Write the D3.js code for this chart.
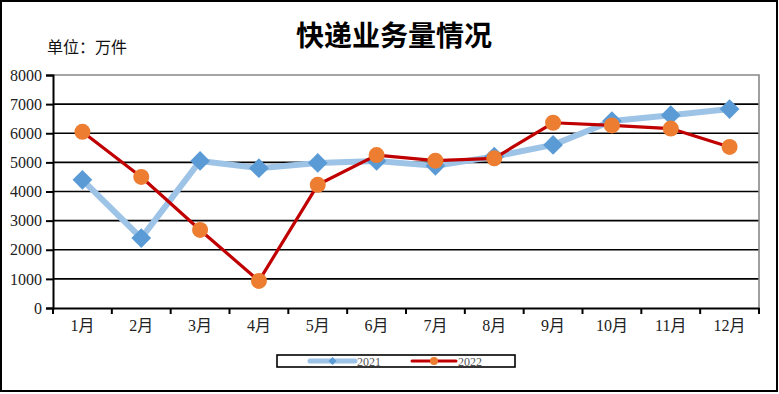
<!DOCTYPE html>
<html><head><meta charset="utf-8">
<script src="https://cdn.jsdelivr.net/npm/d3@7"></script>
<style>
body{margin:0;background:#fff;}
svg{display:block;}
text{font-family:"Liberation Serif","DejaVu Serif","Noto Sans CJK SC",serif;}
</style></head><body>
<svg id="c" width="779" height="394"></svg>
<script>
const categories = ["1月","2月","3月","4月","5月","6月","7月","8月","9月","10月","11月","12月"];
const series2021 = [4400,2400,5050,4800,4980,5050,4880,5200,5600,6420,6620,6830];
const series2022 = [6050,4500,2680,930,4230,5250,5060,5140,6360,6270,6160,5530];
const yTicks = [0,1000,2000,3000,4000,5000,6000,7000,8000];
const seriesNames = ["2021","2022"];
const title = "快递业务量情况";
const unitLabel = "单位：万件";

const svg = d3.select("#c");
const L=53,R=759,T=75,B=308;
const x = d3.scaleBand().domain(categories).range([L,R]);
const y = d3.scaleLinear().domain([0,8000]).range([B,T]);

svg.append("rect").attr("x",1).attr("y",1).attr("width",776).attr("height",390)
  .attr("fill","#fff").attr("stroke","#000").attr("stroke-width",2);

svg.append("text").attr("x",394).attr("y",46).attr("text-anchor","middle")
  .style("font-family","'Noto Sans CJK SC',sans-serif").style("font-weight","bold")
  .style("font-size","28px").attr("fill","#000").text(title);
svg.append("text").attr("x",47).attr("y",53)
  .style("font-family","'Noto Sans CJK SC',sans-serif")
  .style("font-size","16px").attr("fill","#111").text(unitLabel);

// gridlines
svg.append("g").selectAll("line").data(yTicks.filter(d=>d>0&&d<8000)).join("line")
  .attr("x1",L).attr("x2",R).attr("y1",d=>y(d)).attr("y2",d=>y(d))
  .attr("stroke","#000").attr("stroke-width",1.6);
// plot border top/right gray
svg.append("path").attr("d",`M${L},${y(8000)}H${R}V${B}`).attr("fill","none")
  .attr("stroke","#888").attr("stroke-width",1.6);

// y axis
const yAxis = svg.append("g").attr("transform",`translate(${L},0)`)
  .call(d3.axisLeft(y).tickValues(yTicks).tickSize(7).tickPadding(4).tickFormat(d3.format("d")));
yAxis.select(".domain").attr("stroke","#000").attr("stroke-width",2);
yAxis.selectAll(".tick line").attr("stroke","#000").attr("stroke-width",2);
yAxis.selectAll("text").style("font-size","16px").attr("fill","#222");

// x axis
const xAxis = svg.append("g").attr("transform",`translate(0,${B})`)
  .call(d3.axisBottom(x).tickSize(0).tickPadding(12));
xAxis.select(".domain").attr("stroke","#000").attr("stroke-width",2);
xAxis.selectAll("text").style("font-size","16px").attr("fill","#222")
  .style("font-family","'Liberation Serif','Noto Sans CJK SC',serif");
const bounds = categories.map(c=>x(c)).concat([R]);
svg.append("g").selectAll("line").data(bounds).join("line")
  .attr("x1",d=>d).attr("x2",d=>d).attr("y1",B).attr("y2",B+6)
  .attr("stroke","#000").attr("stroke-width",2);

const cx = c=>x(c)+x.bandwidth()/2;
const line = d3.line().x((d,i)=>cx(categories[i])).y(d=>y(d));

svg.append("path").datum(series2021).attr("d",line).attr("fill","none")
  .attr("stroke","#9DC3E6").attr("stroke-width",6).attr("stroke-linejoin","round");
svg.append("g").selectAll("path").data(series2021).join("path")
  .attr("d",d3.symbol(d3.symbolSquare,195)())
  .attr("transform",(d,i)=>`translate(${cx(categories[i])},${y(d)}) rotate(45)`)
  .attr("fill","#5B9BD5");

svg.append("path").datum(series2022).attr("d",line).attr("fill","none")
  .attr("stroke","#C00000").attr("stroke-width",3.2).attr("stroke-linejoin","round");
svg.append("g").selectAll("circle").data(series2022).join("circle")
  .attr("cx",(d,i)=>cx(categories[i])).attr("cy",d=>y(d)).attr("r",8)
  .attr("fill","#ED7D31");

// legend
const lg = svg.append("g");
lg.append("rect").attr("x",277).attr("y",355).attr("width",238).attr("height",12)
  .attr("fill","#fff").attr("stroke","#000").attr("stroke-width",1.6);
const legendItems = [
  {name:seriesNames[0],x1:310,x2:355,color:"#9DC3E6",w:5,mk:"d",mc:"#5B9BD5"},
  {name:seriesNames[1],x1:412,x2:456,color:"#C00000",w:3,mk:"c",mc:"#ED7D31"}
];
legendItems.forEach(it=>{
  lg.append("line").attr("x1",it.x1).attr("x2",it.x2).attr("y1",361).attr("y2",361)
    .attr("stroke",it.color).attr("stroke-width",it.w).attr("stroke-linecap","round");
  const mx=(it.x1+it.x2)/2;
  if(it.mk==="d") lg.append("path").attr("d",d3.symbol(d3.symbolSquare,32)())
    .attr("transform",`translate(${mx},361) rotate(45)`).attr("fill",it.mc);
  else lg.append("circle").attr("cx",mx).attr("cy",361).attr("r",4).attr("fill",it.mc);
  lg.append("text").attr("x",it.x2+2).attr("y",365.5).style("font-size","12px")
    .attr("fill","#555").text(it.name);
});
</script></body></html>
